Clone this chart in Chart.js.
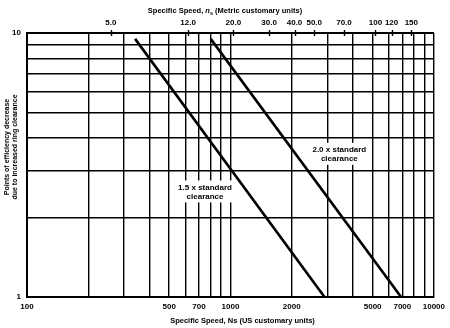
<!DOCTYPE html>
<html>
<head>
<meta charset="utf-8">
<script src="https://cdn.jsdelivr.net/npm/chart.js@4/dist/chart.umd.min.js"></script>
<style>
  html, body { margin: 0; padding: 0; background: #fff; }
</style>
</head>
<body>
<canvas id="graphe" width="450" height="328"></canvas>
<script>
// grille et étiquettes de l'axe du bas (Ns, unités US)
const ticksUS = [100, 200, 300, 400, 500, 600, 700, 800, 900, 1000, 2000, 3000, 4000, 5000, 6000, 7000, 8000, 9000, 10000];
const etiquettesUS = [100, 500, 700, 1000, 2000, 5000, 7000, 10000];

// axe du haut (ns, unités métriques)
const ticksMetrique = [5, 12, 20, 30, 40, 50, 70, 100, 120, 150];
const facteurMetrique = 51.64;

// axe vertical : points de rendement perdus
const ticksPoints = [1, 2, 3, 4, 5, 6, 7, 8, 9, 10];
const etiquettesPoints = [1, 10];

// droites 1.5x et 2.0x
const ns15x = [340, 2900];
const pts15x = [9.5, 1];
const ns20x = [800, 6900];
const pts20x = [9.5, 1];

// textes posés dans le graphe (coordonnées en valeurs)
const notes = [
    { lignes: ['1.5 x standard', 'clearance'], ns: 750, pts: 2.5 },
    { lignes: ['2.0 x standard', 'clearance'], ns: 3430, pts: 3.47 }
];

const POLICE = '"Liberation Sans", Arial, sans-serif';
const NOIR = '#000';

function serie(xs, ys) {
    return xs.map((x, i) => ({ x: x, y: ys[i] }));
}

const textes = {
    id: 'textes',
    afterDatasetsDraw(chart) {
        const ctx = chart.ctx;
        const sx = chart.scales.x, sy = chart.scales.y;
        ctx.save();
        ctx.font = 'bold 8px ' + POLICE;
        ctx.textAlign = 'center';
        ctx.textBaseline = 'middle';
        notes.forEach(n => {
            const cx = sx.getPixelForValue(n.ns);
            const cy = sy.getPixelForValue(n.pts);
            const h = 9;
            const y0 = cy - h * (n.lignes.length - 1) / 2;
            const w = Math.max(...n.lignes.map(l => ctx.measureText(l).width)) + 10;
            ctx.fillStyle = '#fff';
            ctx.fillRect(cx - w / 2, y0 - 7, w, h * (n.lignes.length - 1) + 13);
            ctx.fillStyle = NOIR;
            n.lignes.forEach((l, i) => ctx.fillText(l, cx, y0 + i * h));
        });
        ctx.restore();
    },
    afterDraw(chart) {
        const ctx = chart.ctx;
        const s2 = chart.scales.x2;
        ctx.save();
        ctx.strokeStyle = NOIR;
        ctx.lineWidth = 1.4;
        // petites croix de l'axe métrique
        ticksMetrique.forEach(v => {
            const p = Math.round(s2.getPixelForValue(v)) + 0.5;
            ctx.beginPath();
            ctx.moveTo(p, s2.bottom - 3);
            ctx.lineTo(p, s2.bottom + 3);
            ctx.stroke();
        });

        ctx.fillStyle = NOIR;
        ctx.textBaseline = 'middle';

        // titre du bas
        ctx.font = 'bold 7.5px ' + POLICE;
        ctx.textAlign = 'center';
        ctx.fillText('Specific Speed, Ns (US customary units)', 242.5, 321);

        // titre du haut avec n en italique et s en indice
        const morceaux = [
            { t: 'Specific Speed, ', f: 'bold 7.5px ', dy: 0 },
            { t: 'n', f: 'italic bold 7.5px ', dy: 0 },
            { t: 's', f: 'bold 5.5px ', dy: 2 },
            { t: ' (Metric customary units)', f: 'bold 7.5px ', dy: 0 }
        ];
        let total = 0;
        morceaux.forEach(m => { ctx.font = m.f + POLICE; m.w = ctx.measureText(m.t).width; total += m.w; });
        let x = 225 - total / 2;
        ctx.textAlign = 'left';
        morceaux.forEach(m => {
            ctx.font = m.f + POLICE;
            ctx.fillText(m.t, x, 11 + m.dy);
            x += m.w;
        });

        // titre vertical sur deux lignes
        ctx.translate(0, 147);
        ctx.rotate(-Math.PI / 2);
        ctx.font = 'bold 7px ' + POLICE;
        ctx.textAlign = 'center';
        ctx.fillText('Points of efficiency decrease', 0, 7);
        ctx.fillText('due to increased ring clearance', 0, 15);
        ctx.restore();
    }
};

const grille = { color: NOIR, lineWidth: 1.4, drawTicks: false };
const bord = { color: NOIR, width: 2 };
const policeTicks = { family: POLICE, size: 8, weight: 'bold' };

new Chart(document.getElementById('graphe'), {
    type: 'scatter',
    data: {
        datasets: [
            { label: '1.5 x standard clearance', data: serie(ns15x, pts15x) },
            { label: '2.0 x standard clearance', data: serie(ns20x, pts20x) }
        ].map(d => Object.assign(d, {
            showLine: true,
            borderColor: NOIR,
            borderWidth: 2.6,
            pointRadius: 0,
            xAxisID: 'x',
            yAxisID: 'y'
        }))
    },
    options: {
        responsive: false,
        animation: false,
        devicePixelRatio: 1,
        layout: { padding: { left: 0, right: 13, top: 0, bottom: 0 } },
        plugins: { legend: { display: false }, tooltip: { enabled: false } },
        scales: {
            x: {
                type: 'logarithmic',
                position: 'bottom',
                min: 100,
                max: 10000,
                afterBuildTicks: s => { s.ticks = ticksUS.map(v => ({ value: v })); },
                afterFit: s => { s.height = 31; },
                ticks: {
                    autoSkip: false, maxRotation: 0, padding: 5, color: NOIR, font: policeTicks,
                    callback: v => etiquettesUS.includes(v) ? String(v) : ''
                },
                grid: grille,
                border: bord
            },
            x2: {
                type: 'logarithmic',
                position: 'top',
                min: 100 / facteurMetrique,
                max: 10000 / facteurMetrique,
                afterBuildTicks: s => { s.ticks = ticksMetrique.map(v => ({ value: v })); },
                afterFit: s => { s.height = 33; },
                ticks: {
                    autoSkip: false, maxRotation: 0, padding: 5, color: NOIR, font: policeTicks,
                    callback: v => v < 100 ? v.toFixed(1) : String(v)
                },
                grid: { display: false, drawTicks: false },
                border: bord
            },
            y: {
                type: 'logarithmic',
                position: 'left',
                min: 1,
                max: 10,
                afterBuildTicks: s => { s.ticks = ticksPoints.map(v => ({ value: v })); },
                afterFit: s => { s.width = 27; },
                ticks: {
                    autoSkip: false, padding: 6, color: NOIR, font: policeTicks,
                    callback: v => etiquettesPoints.includes(v) ? String(v) : ''
                },
                grid: grille,
                border: bord
            }
        }
    },
    plugins: [textes]
});
</script>
</body>
</html>
